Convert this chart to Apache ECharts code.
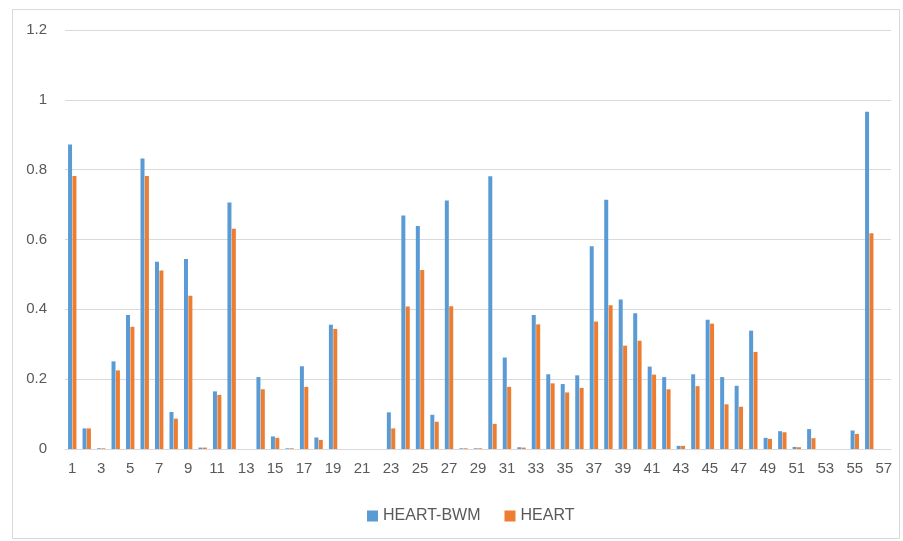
<!DOCTYPE html>
<html>
<head>
<meta charset="utf-8">
<script src="https://cdn.jsdelivr.net/npm/echarts@6/dist/echarts.min.js"></script>
<style>
html,body{margin:0;padding:0;background:#fff;}
#chart{width:903px;height:541px;}
</style>
</head>
<body>
<div id="chart"></div>
<script>
const categories = [];
for (let i = 1; i <= 57; i++) categories.push(String(i));

const heartBwm = [0.872,0.059,0.002,0.251,0.384,0.832,0.536,0.106,0.544,0.004,
  0.165,0.706,0,0.206,0.036,0.002,0.237,0.033,0.356,0,
  0,0,0.105,0.669,0.639,0.098,0.712,0.002,0.002,0.781,
  0.262,0.005,0.384,0.214,0.186,0.211,0.581,0.714,0.428,0.389,
  0.236,0.206,0.009,0.214,0.370,0.206,0.181,0.339,0.032,0.051,
  0.006,0.057,0,0,0.053,0.966,0];
const heart = [0.782,0.059,0.002,0.225,0.350,0.782,0.511,0.087,0.439,0.004,
  0.155,0.631,0,0.171,0.032,0.002,0.178,0.026,0.344,0,
  0,0,0.059,0.408,0.513,0.078,0.409,0.002,0.002,0.072,
  0.178,0.004,0.357,0.188,0.162,0.175,0.365,0.412,0.296,0.310,
  0.213,0.171,0.009,0.180,0.359,0.128,0.121,0.278,0.029,0.048,
  0.005,0.031,0,0,0.043,0.618,0];
const seriesNames = ['HEART-BWM', 'HEART'];
const yTicks = {min: 0, max: 1.2, interval: 0.2};

const chart = echarts.init(document.getElementById('chart'), null, {renderer: 'canvas'});
const textColor = '#595959';
const fontFamily = 'Liberation Sans, Arial, sans-serif';
chart.setOption({
  animation: false,
  backgroundColor: '#fff',
  graphic: [{
    type: 'rect', left: 10, top: 7,
    shape: {width: 887, height: 529},
    style: {fill: 'none', stroke: '#d9d9d9', lineWidth: 1},
    silent: true, z: -10
  }],
  grid: {left: 65, right: 12, top: 30, bottom: 92, containLabel: false},
  legend: {
    data: seriesNames,
    bottom: 12,
    left: 362,
    itemWidth: 11, itemHeight: 11, itemGap: 24,
    icon: 'rect',
    textStyle: {color: textColor, fontSize: 16, fontFamily: fontFamily}
  },
  xAxis: {
    type: 'category',
    data: categories,
    axisLine: {lineStyle: {color: '#d9d9d9', width: 1}},
    axisTick: {show: false},
    axisLabel: {interval: 1, color: textColor, fontSize: 15, fontFamily: fontFamily, margin: 12}
  },
  yAxis: {
    type: 'value',
    min: yTicks.min, max: yTicks.max, interval: yTicks.interval,
    axisLine: {show: false},
    axisTick: {show: false},
    splitLine: {lineStyle: {color: '#d9d9d9', width: 1}},
    axisLabel: {color: textColor, fontSize: 15, fontFamily: fontFamily, margin: 18,
      formatter: v => String(Math.round(v * 10) / 10)}
  },
  series: [
    {name: seriesNames[0], type: 'bar', data: heartBwm, barWidth: 4, barGap: '10%',
      itemStyle: {color: '#5B9BD5'}},
    {name: seriesNames[1], type: 'bar', data: heart, barWidth: 4,
      itemStyle: {color: '#ED7D31'}}
  ]
});
</script>
</body>
</html>
